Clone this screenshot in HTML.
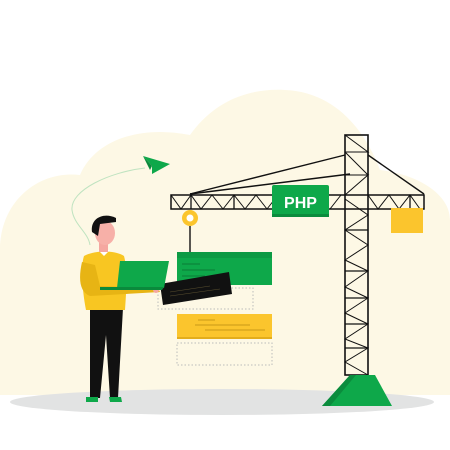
<!DOCTYPE html>
<html><head><style>html,body{margin:0;padding:0;background:#fff}svg{display:block}</style></head><body>
<svg width="450" height="450" viewBox="0 0 450 450" xmlns="http://www.w3.org/2000/svg">
<path d="M0 250 C0 200 40 170 80 175 C95 140 140 125 190 135 C215 100 250 88 285 90 C335 92 365 130 380 170 C420 175 450 195 450 220 L450 395 L0 395 Z" fill="#fdf8e5"/>
<ellipse cx="222" cy="402" rx="212" ry="13" fill="#e2e3e3"/>
<path d="M145 168 C110 172 70 190 72 210 C74 225 88 232 90 245" fill="none" stroke="#bfe3c0" stroke-width="1"/>
<path d="M143 156 L170 164 L152 174 L152 166 Z" fill="#0ea84a"/>
<path d="M143 156 L152 166 L150 170 Z" fill="#0a8a3c"/>
<!-- cables -->
<g stroke="#111" stroke-width="1.4" fill="none">
<line x1="190" y1="194" x2="345" y2="155"/>
<line x1="190" y1="194" x2="350" y2="174"/>
<line x1="368" y1="155" x2="424" y2="194"/>
</g>
<!-- jib -->
<rect x="171" y="195" width="253" height="14" fill="none" stroke="#111" stroke-width="1.5"/>
<path d="M171 195 L181 209 L191 195 L201 209 L212 195 L223 209 L234 195 L245 209 L256 195 L267 209 L278 195 M330 209 L341 195 M368 195 L378 209 L389 195 L399 209 L410 195 L420 209" fill="none" stroke="#111" stroke-width="1"/>
<line x1="191" y1="195" x2="191" y2="209" stroke="#111" stroke-width="1.3"/>
<line x1="234" y1="195" x2="234" y2="209" stroke="#111" stroke-width="1.3"/>
<line x1="410" y1="195" x2="410" y2="209" stroke="#111" stroke-width="1.3"/>
<!-- tower -->
<rect x="345" y="135" width="23" height="240" fill="none" stroke="#111" stroke-width="1.6"/>
<path d="M345 135 L368 152 L345 152 M345 152 L368 175 M345 175 L368 175 L345 195 M345 199 L368 215 L345 230 L368 245 L345 260 L368 271 L345 287 L368 298 L345 313 L368 324 L345 339 L368 348 L345 362 L368 375" fill="none" stroke="#111" stroke-width="1"/>
<path d="M345 230 H368 M345 271 H368 M345 298 H368 M345 324 H368 M345 348 H368" stroke="#111" stroke-width="1.2"/>
<path d="M350 375 L375 375 L392 406 L322 406 Z" fill="#0ea84a"/>
<path d="M350 375 L356 375 L330 406 L322 406 Z" fill="#0b8c3d"/>
<rect x="391" y="208" width="32" height="25" fill="#fbc52d"/>
<rect x="272" y="185" width="57" height="32" rx="2" fill="#0ea84a"/>
<rect x="272" y="214" width="57" height="3" fill="#0b8c3d"/>
<text x="300.5" y="208" text-anchor="middle" font-family="Liberation Sans, sans-serif" font-weight="bold" font-size="16" fill="#fff">PHP</text>
<line x1="190" y1="226" x2="190" y2="253" stroke="#111" stroke-width="1.4"/>
<circle cx="190" cy="218" r="8" fill="#fbc52d"/><circle cx="190" cy="218" r="3.5" fill="#fff"/>
<!-- panels -->
<rect x="177" y="252" width="95" height="33" fill="#0ea84a"/>
<rect x="177" y="252" width="95" height="6" fill="#0c9a43"/>
<g stroke="#0a6e30" stroke-width="0.8"><line x1="182" y1="264" x2="200" y2="264"/><line x1="182" y1="270" x2="215" y2="270"/><line x1="182" y1="276" x2="205" y2="276"/></g>
<rect x="158" y="288" width="95" height="21" fill="none" stroke="#bbb" stroke-dasharray="1.5 2"/>
<path d="M160 284 L229 272 L232 294 L163 305 Z" fill="#111"/>
<g stroke="#5a5030" stroke-width="0.6"><line x1="170" y1="292" x2="210" y2="286"/><line x1="170" y1="296" x2="220" y2="289"/></g>
<rect x="177" y="314" width="95" height="25" fill="#fbc52d"/>
<rect x="177" y="337" width="95" height="2" fill="#e3ad1c"/>
<g stroke="#b98a10" stroke-width="0.7"><line x1="198" y1="320" x2="215" y2="320"/><line x1="195" y1="325" x2="250" y2="325"/><line x1="205" y1="330" x2="265" y2="330"/></g>
<rect x="177" y="343" width="95" height="22" fill="none" stroke="#bbb" stroke-dasharray="1.5 2"/>
<!-- person -->
<path d="M90 308 L123 308 L118 398 L110 398 L106 335 L100 398 L90 398 Z" fill="#111"/>
<path d="M86 397 L98 397 L98 402 L86 402 Z M109 397 L121 397 L122 402 L110 402 Z" fill="#0ea84a"/>
<path d="M84 256 C95 250 115 250 124 256 C128 270 126 295 125 310 L86 310 C83 295 80 268 84 256 Z" fill="#f8c622"/>
<path d="M82 262 C78 280 80 292 90 296 L160 292 L158 288 L100 286 L95 265 Z" fill="#e7b414"/>
<path d="M98 250 L104 256 L110 250 Z" fill="#fff"/>
<rect x="99" y="240" width="9" height="12" fill="#f5a7a0"/>
<ellipse cx="105" cy="233" rx="10" ry="12" fill="#f7b0a8"/>
<path d="M92 232 C90 218 104 212 116 218 L116 222 L100 224 L98 236 Z" fill="#111"/>
<circle cx="156" cy="290" r="3" fill="#f5a7a0"/>
<path d="M120 261 L169 261 L164 288 L117 288 Z" fill="#0ea84a"/>
<path d="M100 287 L164 287 L162 290 L100 290 Z" fill="#0a8a3c"/>
</svg>
</body></html>
